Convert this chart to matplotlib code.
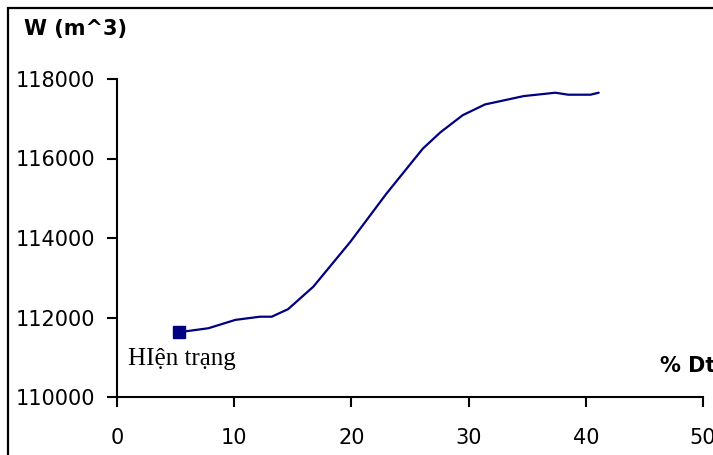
import matplotlib
matplotlib.use("Agg")
import matplotlib.pyplot as plt
from matplotlib.patches import Rectangle

# % Dt vs W (m^3)
dt_pct = [5.3, 7.8, 10.1, 12.2, 13.2, 14.6, 16.75, 19.9, 23.0, 26.1, 27.6,
          29.5, 31.4, 34.7, 37.4, 38.5, 40.4, 41.1]
volume = [111630, 111730, 111940, 112020, 112020, 112210, 112775, 113900,
          115120, 116250, 116660, 117090, 117360, 117570, 117655, 117605,
          117605, 117655]

fig = plt.figure(figsize=(7.13, 4.55), dpi=100)
ax = fig.add_axes([117 / 713, 1 - 397 / 455, (703 - 117) / 713, (397 - 79) / 455])

ax.plot(dt_pct, volume, color="#000080", lw=1.6, solid_capstyle="round")
ax.plot(dt_pct[:1], volume[:1], marker="s", ms=8.6, color="#000080", ls="none")

ax.set_xlim(0, 50)
ax.set_ylim(110000, 118000)
ax.set_xticks(range(0, 51, 10))
ax.set_yticks(range(110000, 118001, 2000))
for s in ("top", "right"):
    ax.spines[s].set_visible(False)
for s in ("left", "bottom"):
    ax.spines[s].set_linewidth(1.5)
ax.tick_params(direction="out", length=7, width=1.5, labelsize=15,
               labelfontfamily="DejaVu Sans")
ax.tick_params(axis="y", pad=8.5)
ax.tick_params(axis="x", pad=15.5)

fig.text(24 / 713, 1 - 29 / 455, "W (m^3)", fontsize=15, fontweight="bold",
         family="DejaVu Sans", va="center", ha="left")
fig.text(660 / 713, 1 - 366 / 455, "% Dt", fontsize=15, fontweight="bold",
         family="DejaVu Sans", va="center", ha="left")
fig.text(128 / 713, 1 - 365 / 455, "HIện trạng", fontsize=18,
         family="Liberation Serif", va="baseline", ha="left")

fig.patches.append(Rectangle((7.5 / 713, -0.1), 1.2, 1 - 7.5 / 455 + 0.1,
                             transform=fig.transFigure, fill=False,
                             ec="black", lw=1.6))

fig.savefig("out.png", dpi=100)
